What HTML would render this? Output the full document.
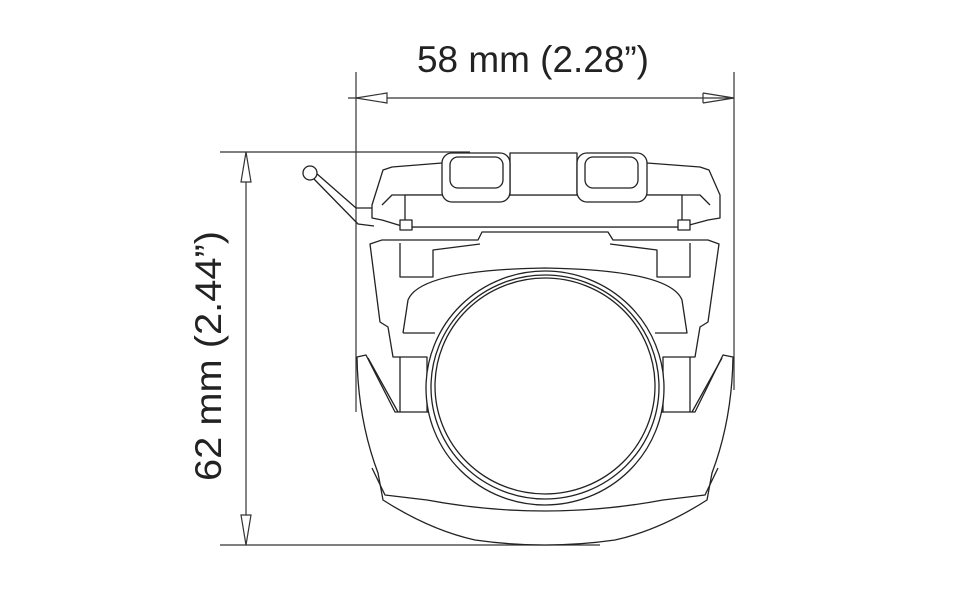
<!DOCTYPE html>
<html><head><meta charset="utf-8"><style>
html,body{margin:0;padding:0;background:#fff;}
svg{display:block;}
</style></head><body>
<svg width="965" height="589" viewBox="0 0 965 589" xmlns="http://www.w3.org/2000/svg">
<g stroke="#333" stroke-width="1.2" fill="none">
<line x1="356" y1="72" x2="356" y2="412"/>
<line x1="734" y1="72" x2="734" y2="390"/>
<line x1="348" y1="98" x2="734" y2="98"/>
<path d="M356,98 L387,93 L387,103 Z" fill="#fff"/>
<path d="M734,98 L703,93 M734,98 L703,103 M703,93 L703,103"/>
<line x1="220" y1="152" x2="470" y2="152"/>
<line x1="220" y1="545" x2="600" y2="545"/>
<line x1="246" y1="152" x2="246" y2="545"/>
<path d="M246,152 L241,182 L251,182 Z" fill="#fff"/>
<path d="M246,545 L241,515 L251,515 Z" fill="#fff"/>
</g>
<text x="533" y="72" font-family="Liberation Sans, sans-serif" font-size="37" fill="#222" text-anchor="middle" textLength="232" lengthAdjust="spacingAndGlyphs">58 mm (2.28”)</text>
<text transform="translate(221,356) rotate(-90)" x="0" y="0" font-family="Liberation Sans, sans-serif" font-size="37" fill="#222" text-anchor="middle" textLength="250" lengthAdjust="spacingAndGlyphs">62 mm (2.44”)</text>

<g stroke="#222" stroke-width="1.3" fill="#fff" stroke-linejoin="round">
<path d="M308,166 L356,208 L374,208 M313,178 L358,224 L374,226" fill="none"/>
<circle cx="310" cy="173" r="7"/>
<!-- bottom piece -->
<path d="M357,357 L366,355 L395,412 L695,412 L723,355 L733,357 Q732,420 712,473 L707,500 Q660,530 615,540 Q545,550 475,540 Q430,530 383,500 L378,473 Q358,420 357,357 Z"/>
<path d="M372,468 L385,495 L427,500 Q545,522 663,500 L705,495 L718,468" fill="none"/>
<path d="M368,358 L398,412 M722,358 L692,412" fill="none"/>
<!-- middle bracket -->
<path d="M370,244 L382,240 L478,240 L482,232 L608,232 L613,240 L708,240 L719,244 L708,322 L700,327 L695,357 L663,357 L663,412 L427,412 L427,357 L393,357 L388,327 L380,322 Z"/>
<path d="M400,357 L400,412 M690,357 L690,412" fill="none"/>
<path d="M403,333 L408,300 Q420,270 545,268 Q670,270 682,300 L687,333 L655,333 M403,333 L435,333" fill="none"/>
<path d="M400,243 L400,277 L433,277 L433,250 L480,244 M690,243 L690,277 L657,277 L657,250 L610,244" fill="none"/>
<ellipse cx="545" cy="388" rx="119" ry="117"/>
<ellipse cx="545" cy="387" rx="114" ry="112" fill="none"/>
<ellipse cx="545" cy="386" rx="110" ry="108"/>
<!-- top housing -->
<path d="M372,205 L383,170 L392,167 L442,163 L647,163 L700,167 L709,170 L720,195 L720,218 L708,220 L682,227 L405,227 L382,220 L372,218 Z"/>
<path d="M382,205 L392,195 L700,195 L710,205" fill="none"/>
<rect x="405" y="195" width="277" height="32"/>
<rect x="400" y="220" width="12" height="10"/>
<rect x="678" y="220" width="12" height="10"/>
<rect x="510" y="153" width="67" height="42"/>
<rect x="442" y="153" width="68" height="49" rx="10"/>
<rect x="450" y="157" width="53" height="31" rx="8"/>
<rect x="577" y="153" width="70" height="49" rx="10"/>
<rect x="585" y="157" width="53" height="31" rx="8"/>
</g>
</svg>
</body></html>
